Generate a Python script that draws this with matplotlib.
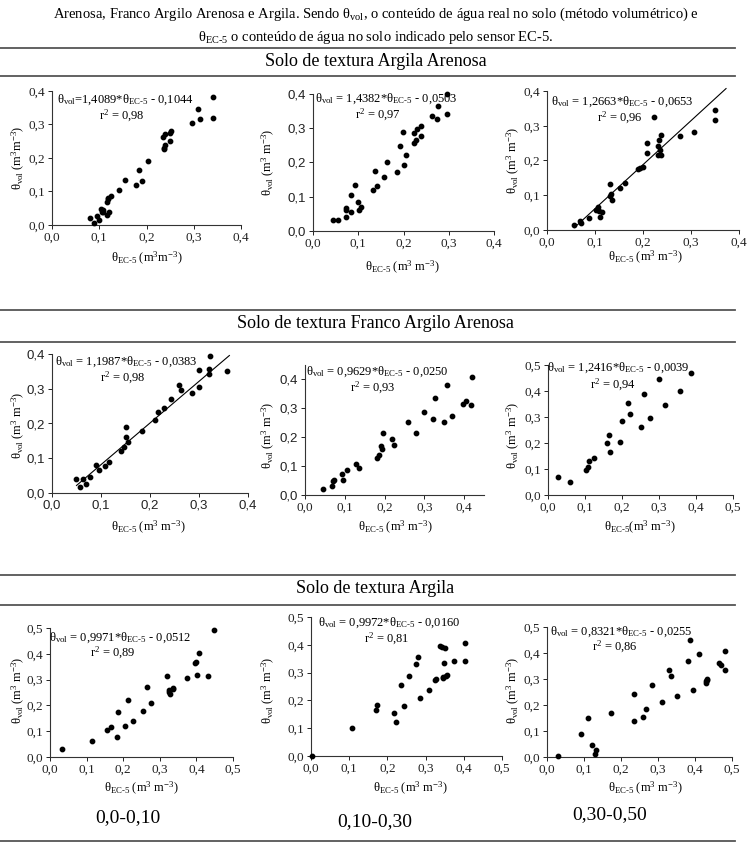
import matplotlib
matplotlib.use("Agg")
import matplotlib.pyplot as plt
from matplotlib.ticker import FuncFormatter, MultipleLocator
from matplotlib.lines import Line2D

plt.rcParams['font.family'] = ['Liberation Serif', 'DejaVu Serif']
plt.rcParams['mathtext.fontset'] = 'custom'
plt.rcParams['mathtext.rm'] = 'Liberation Serif'
plt.rcParams['mathtext.it'] = 'Liberation Serif'
plt.rcParams['mathtext.default'] = 'regular'

W, H = 751, 847

# ---- data ----
# Argila Arenosa
x1 = [0.080, 0.088, 0.095, 0.100, 0.103, 0.105, 0.107, 0.108, 0.116, 0.117, 0.118,
      0.119, 0.120, 0.125, 0.142, 0.155, 0.178, 0.185, 0.190, 0.203, 0.235, 0.236,
      0.238, 0.240, 0.240, 0.250, 0.251, 0.250, 0.297, 0.310, 0.313, 0.340, 0.340]
y1 = [0.020, 0.005, 0.027, 0.014, 0.048, 0.040, 0.045, 0.038, 0.030, 0.070, 0.077,
      0.082, 0.040, 0.088, 0.105, 0.135, 0.118, 0.165, 0.132, 0.192, 0.262, 0.230,
      0.226, 0.272, 0.240, 0.275, 0.282, 0.250, 0.305, 0.345, 0.315, 0.383, 0.320]

x2 = [0.044, 0.055, 0.072, 0.072, 0.074, 0.083, 0.083, 0.092, 0.099, 0.102, 0.106,
      0.133, 0.138, 0.141, 0.156, 0.163, 0.186, 0.193, 0.198, 0.202, 0.206, 0.224,
      0.224, 0.228, 0.229, 0.238, 0.238, 0.263, 0.273, 0.276, 0.296, 0.296]
y2 = [0.031, 0.031, 0.068, 0.060, 0.040, 0.106, 0.056, 0.134, 0.085, 0.060, 0.070,
      0.119, 0.176, 0.131, 0.158, 0.202, 0.171, 0.248, 0.290, 0.194, 0.221, 0.258,
      0.287, 0.267, 0.298, 0.276, 0.306, 0.337, 0.328, 0.366, 0.343, 0.401]

x3 = [0.057, 0.069, 0.071, 0.087, 0.103, 0.106, 0.108, 0.110, 0.115, 0.131, 0.132,
      0.134, 0.135, 0.152, 0.162, 0.190, 0.194, 0.199, 0.208, 0.209, 0.223, 0.231,
      0.232, 0.234, 0.235, 0.238, 0.238, 0.278, 0.306, 0.350, 0.350]
y3 = [0.013, 0.025, 0.020, 0.034, 0.058, 0.065, 0.055, 0.036, 0.051, 0.133, 0.099,
      0.103, 0.087, 0.122, 0.135, 0.176, 0.178, 0.180, 0.223, 0.251, 0.325, 0.242,
      0.216, 0.258, 0.230, 0.273, 0.216, 0.271, 0.281, 0.346, 0.316]

# Franco Argilo Arenosa
x4 = [0.049, 0.057, 0.064, 0.069, 0.077, 0.089, 0.095, 0.108, 0.117, 0.140, 0.146,
      0.150, 0.151, 0.156, 0.184, 0.211, 0.216, 0.229, 0.242, 0.259, 0.264, 0.286,
      0.301, 0.301, 0.321, 0.321, 0.323, 0.358]
y4 = [0.041, 0.017, 0.039, 0.027, 0.046, 0.080, 0.065, 0.078, 0.089, 0.121, 0.133,
      0.162, 0.190, 0.147, 0.179, 0.210, 0.234, 0.245, 0.270, 0.312, 0.297, 0.287,
      0.353, 0.306, 0.343, 0.357, 0.395, 0.351]

x5 = [0.046, 0.069, 0.071, 0.074, 0.092, 0.096, 0.105, 0.128, 0.135, 0.180, 0.187,
      0.192, 0.194, 0.195, 0.218, 0.223, 0.259, 0.278, 0.300, 0.323, 0.328, 0.350,
      0.358, 0.370, 0.397, 0.405, 0.418, 0.419]
y5 = [0.021, 0.032, 0.047, 0.051, 0.074, 0.051, 0.085, 0.106, 0.093, 0.128, 0.137,
      0.171, 0.160, 0.213, 0.193, 0.172, 0.254, 0.216, 0.286, 0.263, 0.336, 0.254,
      0.380, 0.272, 0.315, 0.325, 0.310, 0.408]

x6 = [0.027, 0.059, 0.102, 0.108, 0.111, 0.124, 0.159, 0.165, 0.168, 0.195, 0.201,
      0.217, 0.221, 0.250, 0.260, 0.276, 0.300, 0.316, 0.358, 0.387]
y6 = [0.069, 0.049, 0.095, 0.107, 0.130, 0.143, 0.199, 0.230, 0.166, 0.202, 0.285,
      0.354, 0.313, 0.260, 0.390, 0.298, 0.448, 0.348, 0.399, 0.471]

# Argila
x7 = [0.032, 0.114, 0.155, 0.166, 0.182, 0.186, 0.205, 0.214, 0.227, 0.253, 0.265,
      0.275, 0.321, 0.325, 0.325, 0.328, 0.336, 0.337, 0.374, 0.395, 0.398, 0.403,
      0.406, 0.432, 0.448]
y7 = [0.030, 0.062, 0.106, 0.117, 0.079, 0.175, 0.120, 0.220, 0.140, 0.177, 0.272,
      0.210, 0.313, 0.259, 0.251, 0.244, 0.262, 0.267, 0.308, 0.365, 0.369, 0.316,
      0.405, 0.314, 0.491]

x8 = [0.003, 0.107, 0.169, 0.173, 0.216, 0.222, 0.235, 0.244, 0.257, 0.274, 0.280,
      0.285, 0.308, 0.325, 0.326, 0.338, 0.343, 0.345, 0.346, 0.348, 0.350, 0.353,
      0.355, 0.374, 0.403, 0.403]
y8 = [0.001, 0.100, 0.166, 0.184, 0.156, 0.121, 0.257, 0.180, 0.288, 0.331, 0.357,
      0.208, 0.236, 0.274, 0.278, 0.397, 0.393, 0.284, 0.280, 0.334, 0.387, 0.288,
      0.293, 0.343, 0.406, 0.340]

x9 = [0.029, 0.093, 0.110, 0.121, 0.129, 0.133, 0.173, 0.234, 0.234, 0.259, 0.268,
      0.285, 0.311, 0.331, 0.334, 0.351, 0.381, 0.386, 0.394, 0.410, 0.430, 0.431,
      0.432, 0.433, 0.465, 0.469, 0.480, 0.480]
y9 = [0.003, 0.088, 0.150, 0.045, 0.013, 0.026, 0.168, 0.244, 0.140, 0.155, 0.186,
      0.276, 0.212, 0.336, 0.310, 0.233, 0.371, 0.451, 0.256, 0.395, 0.285, 0.292,
      0.300, 0.296, 0.363, 0.353, 0.409, 0.336]

xs = [x1, x2, x3, x4, x5, x6, x7, x8, x9]
ys = [y1, y2, y3, y4, y5, y6, y7, y8, y9]
slopes = ['1,4089', '1,4382', '1,2663', '1,1987', '0,9629', '1,2416', '0,9971', '0,9972', '0,8321']
intercepts = ['0,1044', '0,0503', '0,0653', '0,0383', '0,0250', '0,0039', '0,0512', '0,0160', '0,0255']
r2 = ['0,98', '0,97', '0,96', '0,98', '0,93', '0,94', '0,89', '0,81', '0,86']
lim = [0.4, 0.4, 0.4, 0.4, 0.45, 0.5, 0.5, 0.5, 0.5]
fit_range = {2: (0.057, 0.373), 3: (0.05, 0.362)}
sections = ['Solo de textura Argila Arenosa', 'Solo de textura Franco Argilo Arenosa',
            'Solo de textura Argila']
depths = ['0,0-0,10', '0,10-0,30', '0,30-0,50']

# pixel boxes: left, top, right, bottom
boxes = [(52, 91, 241, 225), (313, 94, 494, 231), (547, 91, 739, 230),
         (52, 354, 248, 493), (305, 365, 484, 495), (548, 365, 733, 495),
         (50, 628, 233, 757), (311, 617, 502, 756), (547, 627, 732, 757)]
eq_pos = [(57, 100), (315, 99), (551, 102), (55, 362), (306, 372), (547, 368),
          (49, 638), (318, 623), (550, 632)]
r2_pos = [(122, 116), (378, 115), (620, 118), (123, 378), (373, 388), (613, 385),
          (113, 653), (387, 639), (615, 647)]
ylab_pos = [(18, 158), (268, 162), (513, 160), (18, 425), (268, 435), (513, 435),
            (18, 690), (268, 690), (513, 690)]
xlab_pos = [(147, 258), (402, 267), (645, 257), (148, 527), (395, 527), (640, 527),
            (141, 788), (410, 788), (645, 788)]
units_x = ['(m$^3$m$^{-3}$)'] + ['(m$^3$ m$^{-3}$)'] * 8
units_y = ['(m$^3$m$^{-3}$)'] + ['(m$^3$ m$^{-3}$)'] * 8


def fx(x):
    return x / W


def fy(y):
    return 1 - y / H


fig = plt.figure(figsize=(W / 100, H / 100), dpi=100)
fmt = FuncFormatter(lambda v, p: ('%.1f' % v).replace('.', ','))

for i in range(9):
    l, t, r, b = boxes[i]
    ax = fig.add_axes([fx(l), fy(b), (r - l) / W, (b - t) / H])
    ax.scatter(xs[i], ys[i], s=10, color='black', zorder=3, clip_on=False)
    if i in fit_range:
        a = float(slopes[i].replace(',', '.'))
        c = float(intercepts[i].replace(',', '.'))
        x0, x1_ = fit_range[i]
        ax.plot([x0, x1_], [a * x0 - c, a * x1_ - c], color='black', lw=0.8, clip_on=False)
    ax.set_xlim(0, lim[i])
    ax.set_ylim(0, lim[i])
    ax.xaxis.set_major_locator(MultipleLocator(0.1))
    ax.yaxis.set_major_locator(MultipleLocator(0.1))
    ax.xaxis.set_major_formatter(fmt)
    ax.yaxis.set_major_formatter(fmt)
    for s in ['top', 'right']:
        ax.spines[s].set_visible(False)
    for s in ['left', 'bottom']:
        ax.spines[s].set_linewidth(0.8)
        ax.spines[s].set_color('#333333')
    ax.tick_params(direction='out', length=3, width=0.7, labelsize=9.5, pad=2,
                   colors='#222222')
    if i in (1, 3, 4):
        for lab in ax.get_yticklabels():
            lab.set_family('Liberation Sans')
    if i == 3:
        for lab in ax.get_xticklabels():
            lab.set_family('Liberation Sans')
    ax.patch.set_alpha(0)

    sep = '=' if i == 0 else ' = '
    eq = 'θ$_{vol}$' + sep + slopes[i] + '*θ$_{EC\\text{-}5}$ - ' + intercepts[i]
    fig.text(fx(eq_pos[i][0]), fy(eq_pos[i][1]), eq, fontsize=9, ha='left', va='center')
    fig.text(fx(r2_pos[i][0]), fy(r2_pos[i][1]), 'r$^2$ = ' + r2[i], fontsize=9,
             ha='center', va='center')
    fig.text(fx(ylab_pos[i][0]), fy(ylab_pos[i][1]), 'θ$_{vol}$ ' + units_y[i],
             fontsize=9, rotation=90, ha='center', va='center')
    xsep = '' if i == 5 else ' '
    fig.text(fx(xlab_pos[i][0]), fy(xlab_pos[i][1]), 'θ$_{EC\\text{-}5}$' + xsep + units_x[i],
             fontsize=9, ha='center', va='center')

# page text and rules
fig.text(0.5, fy(14), 'Arenosa, Franco Argilo Arenosa e Argila. Sendo θ$_{vol}$, o conteúdo de água '
         'real no solo (método volumétrico) e', fontsize=10.5, ha='center', va='center')
fig.text(0.5, fy(37), 'θ$_{EC\\text{-}5}$ o conteúdo de água no solo indicado pelo sensor EC-5.',
         fontsize=10.5, ha='center', va='center')

for yy in [48, 76, 310, 342, 575, 605, 841]:
    fig.add_artist(Line2D([0, fx(735)], [fy(yy), fy(yy)], color='#555555', lw=1.3))

for txt, yy in zip(sections, [61, 323, 588]):
    fig.text(0.5, fy(yy), txt, fontsize=13, ha='center', va='center')

for txt, (xx, yy) in zip(depths, [(128, 818), (375, 822), (610, 815)]):
    fig.text(fx(xx), fy(yy), txt, fontsize=14, ha='center', va='center')

fig.savefig('out.png', dpi=100, facecolor='white')
